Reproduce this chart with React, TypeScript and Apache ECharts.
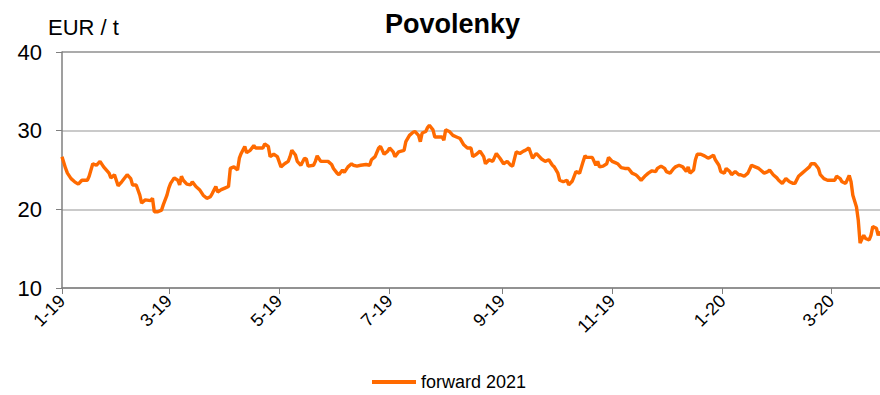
import React, { useEffect, useRef } from "react";
import * as echarts from "echarts";

// Prices are placed by calendar day counted from 1 January 2019.
const START = Date.UTC(2019, 0, 1);
const DAY = 86400000;

const tradingDay = [
  0, 2, 3, 5, 7, 9, 11, 14, 15, 17, 19, 21, 23, 26, 27, 29, 31, 33, 36, 38, 39, 41, 43, 44, 46, 49, 50, 51, 53, 55,
  56, 58, 59, 60, 62, 64, 65, 66, 67, 69, 71, 72, 74, 76, 78, 80, 82, 83, 85, 86, 88, 90, 92, 93, 95, 97, 98, 99, 101, 102,
  104, 106, 107, 111, 112, 114, 115, 117, 119, 121, 123, 125, 126, 127, 129, 130, 132, 134, 135, 136, 139, 140, 141, 143, 145, 147, 149, 150, 152, 153,
  155, 156, 158, 160, 161, 163, 165, 168, 170, 171, 173, 175, 176, 178, 180, 181, 183, 184, 186, 189, 190, 192, 194, 195, 197, 198, 199, 201, 202, 203,
  205, 206, 208, 210, 211, 212, 214, 216, 218, 220, 222, 224, 226, 227, 229, 231, 233, 234, 236, 238, 240, 242, 244, 246, 248, 249, 251, 253, 255, 256,
  258, 260, 262, 263, 265, 267, 269, 271, 272, 274, 275, 277, 279, 280, 282, 284, 286, 288, 289, 290, 293, 295, 296, 297, 299, 301, 302, 304, 306, 307,
  309, 311, 313, 315, 317, 318, 320, 322, 324, 326, 328, 329, 331, 333, 334, 336, 338, 339, 341, 343, 345, 346, 347, 349, 350, 351, 353, 355, 357, 358,
  360, 361, 363, 364, 366, 367, 369, 370, 372, 374, 375, 377, 379, 381, 383, 385, 386, 388, 390, 391, 393, 395, 396, 398, 400, 402, 404, 405, 407, 409,
  411, 413, 414, 416, 418, 419, 421, 423, 425, 427, 428, 430, 431, 433, 435, 436, 437, 439, 440, 441, 443, 444, 446, 447, 448, 450, 451, 452,
];

const forward2021 = [
  26.7, 25.2, 24.6, 23.9, 23.5, 23.2, 23.7, 23.7, 24.2, 25.8, 25.6, 26.1, 25.4, 24.6, 24.0, 24.4, 23.0, 23.5, 24.4, 23.9, 23.1, 23.1, 21.8, 20.8, 21.2, 21.1, 21.4, 19.7, 19.7, 19.9,
  20.6, 21.8, 22.7, 23.3, 24.0, 23.7, 23.1, 24.2, 23.7, 23.2, 23.1, 23.5, 22.9, 22.5, 21.8, 21.4, 21.6, 22.0, 22.9, 22.2, 22.5, 22.7, 22.9, 25.2, 25.4, 25.0, 26.5, 27.1, 28.0, 27.2,
  27.5, 28.1, 27.8, 27.8, 28.3, 28.0, 26.7, 27.0, 26.7, 25.4, 25.8, 26.1, 26.7, 27.5, 26.9, 26.1, 25.6, 26.5, 26.4, 25.5, 25.6, 26.1, 26.8, 26.1, 26.1, 26.1, 25.7, 25.2, 24.6, 24.4,
  25.0, 24.7, 25.4, 25.8, 25.6, 25.5, 25.6, 25.7, 25.6, 26.3, 26.7, 27.8, 28.0, 27.0, 27.4, 27.8, 27.3, 26.7, 27.3, 27.5, 28.6, 29.4, 29.8, 29.9, 29.4, 28.6, 29.7, 29.9, 30.4, 30.7,
  30.1, 29.2, 29.2, 29.2, 28.8, 30.1, 29.9, 29.4, 29.2, 29.0, 28.2, 27.8, 27.8, 26.7, 27.0, 27.4, 26.7, 25.8, 26.3, 26.1, 27.1, 26.5, 25.8, 26.1, 25.6, 25.5, 27.3, 27.1, 27.4, 27.5,
  27.8, 26.5, 27.1, 26.9, 26.4, 26.1, 26.3, 25.6, 25.4, 24.6, 23.7, 23.5, 23.7, 23.1, 23.6, 24.8, 24.6, 26.1, 26.8, 26.6, 26.6, 25.6, 26.1, 25.4, 25.5, 25.8, 26.6, 26.1, 25.9, 25.8,
  25.3, 25.2, 25.2, 24.6, 24.4, 24.2, 23.7, 24.2, 24.6, 24.9, 24.8, 25.2, 25.5, 25.2, 24.8, 24.6, 25.2, 25.4, 25.6, 25.4, 24.8, 25.4, 24.6, 25.0, 26.3, 27.0, 27.0, 26.8, 26.5, 26.6,
  26.9, 26.3, 25.6, 24.8, 24.6, 25.2, 24.8, 24.4, 24.8, 24.4, 24.4, 24.2, 24.6, 25.6, 25.4, 25.2, 25.0, 24.6, 24.8, 25.0, 24.4, 24.0, 23.7, 23.3, 23.9, 23.5, 23.3, 23.3, 24.2, 24.6,
  25.0, 25.4, 25.8, 25.8, 25.2, 24.4, 23.9, 23.7, 23.7, 23.7, 24.2, 23.9, 23.5, 23.3, 24.3, 23.5, 21.8, 20.3, 18.6, 15.7, 16.7, 16.3, 16.1, 16.7, 17.8, 17.6, 16.7, 17.2,
];

// Tick marks every second month, first of the month.
const tickDates = [
  "2019-01-01", "2019-03-01", "2019-05-01", "2019-07-01",
  "2019-09-01", "2019-11-01", "2020-01-01", "2020-03-01",
];
const lastDay = 452;

const yTicks = { min: 10, max: 40, interval: 10 };

const FONT = "'Liberation Sans', Arial, sans-serif";
const ORANGE = "#FF6A00";

const dayOf = (iso: string) => Math.round((Date.parse(iso + "T00:00:00Z") - START) / DAY);
const labelOf = (day: number) => {
  const d = new Date(START + day * DAY);
  return `${d.getUTCMonth() + 1}-${String(d.getUTCFullYear() % 100).padStart(2, "0")}`;
};

export default function App() {
  const ref = useRef<HTMLDivElement>(null);

  useEffect(() => {
    if (!ref.current) return;
    document.body.style.margin = "0";
    document.body.style.overflow = "hidden";
    const chart = echarts.init(ref.current, null, { renderer: "svg" });
    const tickValues = tickDates.map(dayOf);
    const seriesData = tradingDay.map((d, i) => [d, forward2021[i]]);

    chart.setOption({
      animation: false,
      backgroundColor: "#ffffff",
      textStyle: { fontFamily: FONT },
      title: {
        text: "Povolenky",
        left: 380,
        top: 5,
        textStyle: { fontFamily: FONT, fontSize: 27, fontWeight: "bold", color: "#000" },
      },
      grid: { left: 62, right: 0, top: 52, bottom: 107, containLabel: false },
      legend: {
        left: 370,
        top: 371,
        padding: 2,
        icon: "rect",
        itemWidth: 44,
        itemHeight: 4,
        itemGap: 10,
        textStyle: { fontFamily: FONT, fontSize: 18, color: "#000" },
        data: ["forward 2021"],
      },
      xAxis: {
        type: "value",
        min: 0,
        max: lastDay,
        axisLine: { show: true, lineStyle: { color: "#7f7f7f", width: 1.5 } },
        axisTick: { show: true, length: 6, customValues: tickValues, lineStyle: { color: "#7f7f7f" } },
        axisLabel: {
          customValues: tickValues,
          rotate: 45,
          margin: 10,
          fontSize: 18,
          color: "#000",
          fontFamily: FONT,
          formatter: (v: number) => labelOf(v),
        },
        splitLine: { show: false },
      },
      yAxis: {
        type: "value",
        min: yTicks.min,
        max: yTicks.max,
        interval: yTicks.interval,
        name: "EUR / t",
        nameLocation: "end",
        nameGap: 14,
        nameTextStyle: { fontFamily: FONT, fontSize: 22, color: "#000", align: "left", padding: [0, 0, 0, -14] },
        axisLine: { show: true, lineStyle: { color: "#7f7f7f", width: 1.5 } },
        axisTick: { show: true, length: 6, lineStyle: { color: "#7f7f7f" } },
        axisLabel: { margin: 20, fontSize: 22, color: "#000", fontFamily: FONT },
        splitLine: { show: true, lineStyle: { color: ["#b8b8b8", "#b8b8b8", "#b8b8b8", "#8f8f8f"], width: 1.5 } },
      },
      series: [
        {
          name: "forward 2021",
          type: "line",
          data: seriesData,
          showSymbol: false,
          symbol: "none",
          lineStyle: { color: ORANGE, width: 3.4 },
          itemStyle: { color: ORANGE },
        },
      ],
    });

    return () => chart.dispose();
  }, []);

  return <div ref={ref} style={{ position: "absolute", left: 0, top: 0, width: 880, height: 395 }} />;
}
